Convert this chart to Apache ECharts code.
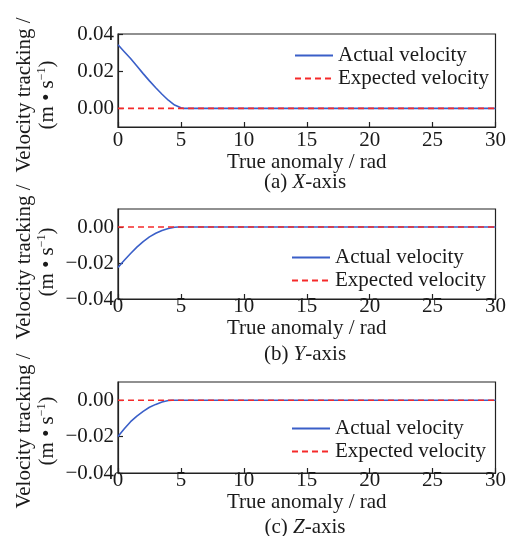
<!DOCTYPE html>
<html>
<head>
<meta charset="utf-8">
<script src="https://cdn.jsdelivr.net/npm/echarts@6/dist/echarts.min.js"></script>
<style>
html,body{margin:0;padding:0;background:#fff;}
#c{width:509px;height:536px;}
</style>
</head>
<body>
<div id="c"></div>
<script>
// ---- data ----
var xTicks = [0, 5, 10, 15, 20, 25, 30];
var xRange = [0, 30];

// (a) X-axis
var xA = [0, 0.5, 1, 1.5, 2, 2.5, 3, 3.5, 4, 4.5, 5, 5.2, 30];
var actualA = [0.0342, 0.0305, 0.0268, 0.0228, 0.0187, 0.0148, 0.0111, 0.0076, 0.0044, 0.0018, 0.0003, 0, 0];
var yTicksA = [0, 0.02, 0.04];
var yRangeA = [-0.01, 0.04];

// (b) Y-axis
var xB = [0, 0.5, 1, 1.5, 2, 2.5, 3, 3.5, 4, 4.5, 4.8, 30];
var actualB = [-0.0225, -0.0185, -0.0147, -0.0112, -0.0081, -0.0055, -0.0035, -0.0019, -0.0008, -0.0001, 0, 0];
var yTicksB = [-0.04, -0.02, 0];
var yRangeB = [-0.04, 0.01];

// (c) Z-axis
var xC = [0, 0.5, 1, 1.5, 2, 2.5, 3, 3.5, 4, 4.3, 30];
var actualC = [-0.0200, -0.0157, -0.0118, -0.0087, -0.0061, -0.0039, -0.0023, -0.0010, -0.0002, 0, 0];
var yTicksC = [-0.04, -0.02, 0];
var yRangeC = [-0.04, 0.01];

var expectedX = [0, 30];
var expectedY = [0, 0];

var seriesNames = ['Actual velocity', 'Expected velocity'];
var xName = 'True anomaly / rad';
var yName1 = 'Velocity tracking /';
var captions = [['(a) ', 'X', '-axis'], ['(b) ', 'Y', '-axis'], ['(c) ', 'Z', '-axis']];

// ---- build ----
function zip(xs, ys) { return xs.map(function (x, i) { return [x, ys[i]]; }); }
var FONT = 'Liberation Serif, Times New Roman, serif';
var TXT = '#1a1a1a';
var FRAME = '#222';
var BLUE = '#3a5fc8';
var RED = '#f52a2a';

var grids = [
  { left: 118, top: 34, width: 378, height: 93 },
  { left: 118, top: 209, width: 378, height: 90 },
  { left: 118, top: 382, width: 378, height: 91 }
];
var yTicks = [yTicksA, yTicksB, yTicksC];
var yRanges = [yRangeA, yRangeB, yRangeC];
var actual = [zip(xA, actualA), zip(xB, actualB), zip(xC, actualC)];
var labelMargins = [3, -3, -3];
var legendPos = [{ left: 294, top: 45 }, { left: 291, top: 247 }, { left: 291, top: 418 }];
var yNameCenters = [95, 262, 431];
var captionY = [182, 354, 527];

function fmtY(v) {
  if (Math.abs(v) < 1e-9) return '0.00';
  return (v < 0 ? '\u2212' : '') + Math.abs(v).toFixed(2);
}

var option = {
  animation: false,
  backgroundColor: '#fff',
  grid: [], xAxis: [], yAxis: [], series: [], legend: [], graphic: []
};

grids.forEach(function (g, i) {
  option.grid.push({ left: g.left, top: g.top, width: g.width, height: g.height,
    show: true, borderColor: FRAME, borderWidth: 1.2, backgroundColor: 'transparent' });
  option.xAxis.push({
    gridIndex: i, type: 'value', min: xRange[0], max: xRange[1], interval: 5,
    name: xName, nameLocation: 'middle', nameGap: 19,
    nameTextStyle: { fontFamily: FONT, fontSize: 21, color: TXT, lineHeight: 21 },
    axisLine: { onZero: false, lineStyle: { color: FRAME, width: 1.2 } },
    axisTick: { inside: true, length: 5, lineStyle: { color: FRAME, width: 1.2 } },
    axisLabel: { fontFamily: FONT, fontSize: 21, color: TXT, margin: labelMargins[i] },
    splitLine: { show: false }
  });
  option.yAxis.push({
    gridIndex: i, type: 'value', min: yRanges[i][0], max: yRanges[i][1],
    axisLine: { onZero: false, lineStyle: { color: FRAME, width: 1.2 } },
    axisTick: { inside: true, length: 5, customValues: yTicks[i], lineStyle: { color: FRAME, width: 1.2 } },
    axisLabel: { fontFamily: FONT, fontSize: 21, color: TXT, margin: 4, customValues: yTicks[i], formatter: fmtY },
    splitLine: { show: false }
  });
  option.series.push({
    name: seriesNames[0], type: 'line', xAxisIndex: i, yAxisIndex: i,
    data: actual[i], symbol: 'none', showSymbol: false,
    lineStyle: { color: BLUE, width: 1.6 }, itemStyle: { color: BLUE }
  });
  option.series.push({
    name: seriesNames[1], type: 'line', xAxisIndex: i, yAxisIndex: i,
    data: zip(expectedX, expectedY), symbol: 'none', showSymbol: false,
    lineStyle: { color: RED, width: 1.6, type: [6, 4] }, itemStyle: { color: RED }
  });
  option.legend.push({
    data: seriesNames, orient: 'vertical', left: legendPos[i].left, top: legendPos[i].top,
    padding: 0, itemWidth: 38, itemHeight: 14, itemGap: 2, selectedMode: false,
    itemStyle: { opacity: 0 },
    textStyle: { fontFamily: FONT, fontSize: 21, color: TXT, lineHeight: 21 }
  });
  option.graphic.push({
    type: 'text', x: 36, y: yNameCenters[i], rotation: Math.PI / 2,
    style: {
      text: yName1 + '\n(m \u2022 s{sup|\u22121})',
      textAlign: 'center', textVerticalAlign: 'middle',
      font: '21px ' + FONT, fill: TXT, lineHeight: 23,
      rich: { sup: { fontSize: 12, fontFamily: FONT, fill: TXT, verticalAlign: 'top', lineHeight: 23 } }
    }
  });
  option.graphic.push({
    type: 'text', x: 305, y: captionY[i],
    style: {
      text: captions[i][0] + '{i|' + captions[i][1] + '}' + captions[i][2],
      textAlign: 'center', textVerticalAlign: 'middle',
      font: '21px ' + FONT, fill: TXT,
      rich: { i: { fontStyle: 'italic', fontSize: 21, fontFamily: FONT, fill: TXT } }
    }
  });
});

var chart = echarts.init(document.getElementById('c'), null, { renderer: 'canvas' });
chart.setOption(option);
</script>
</body>
</html>
